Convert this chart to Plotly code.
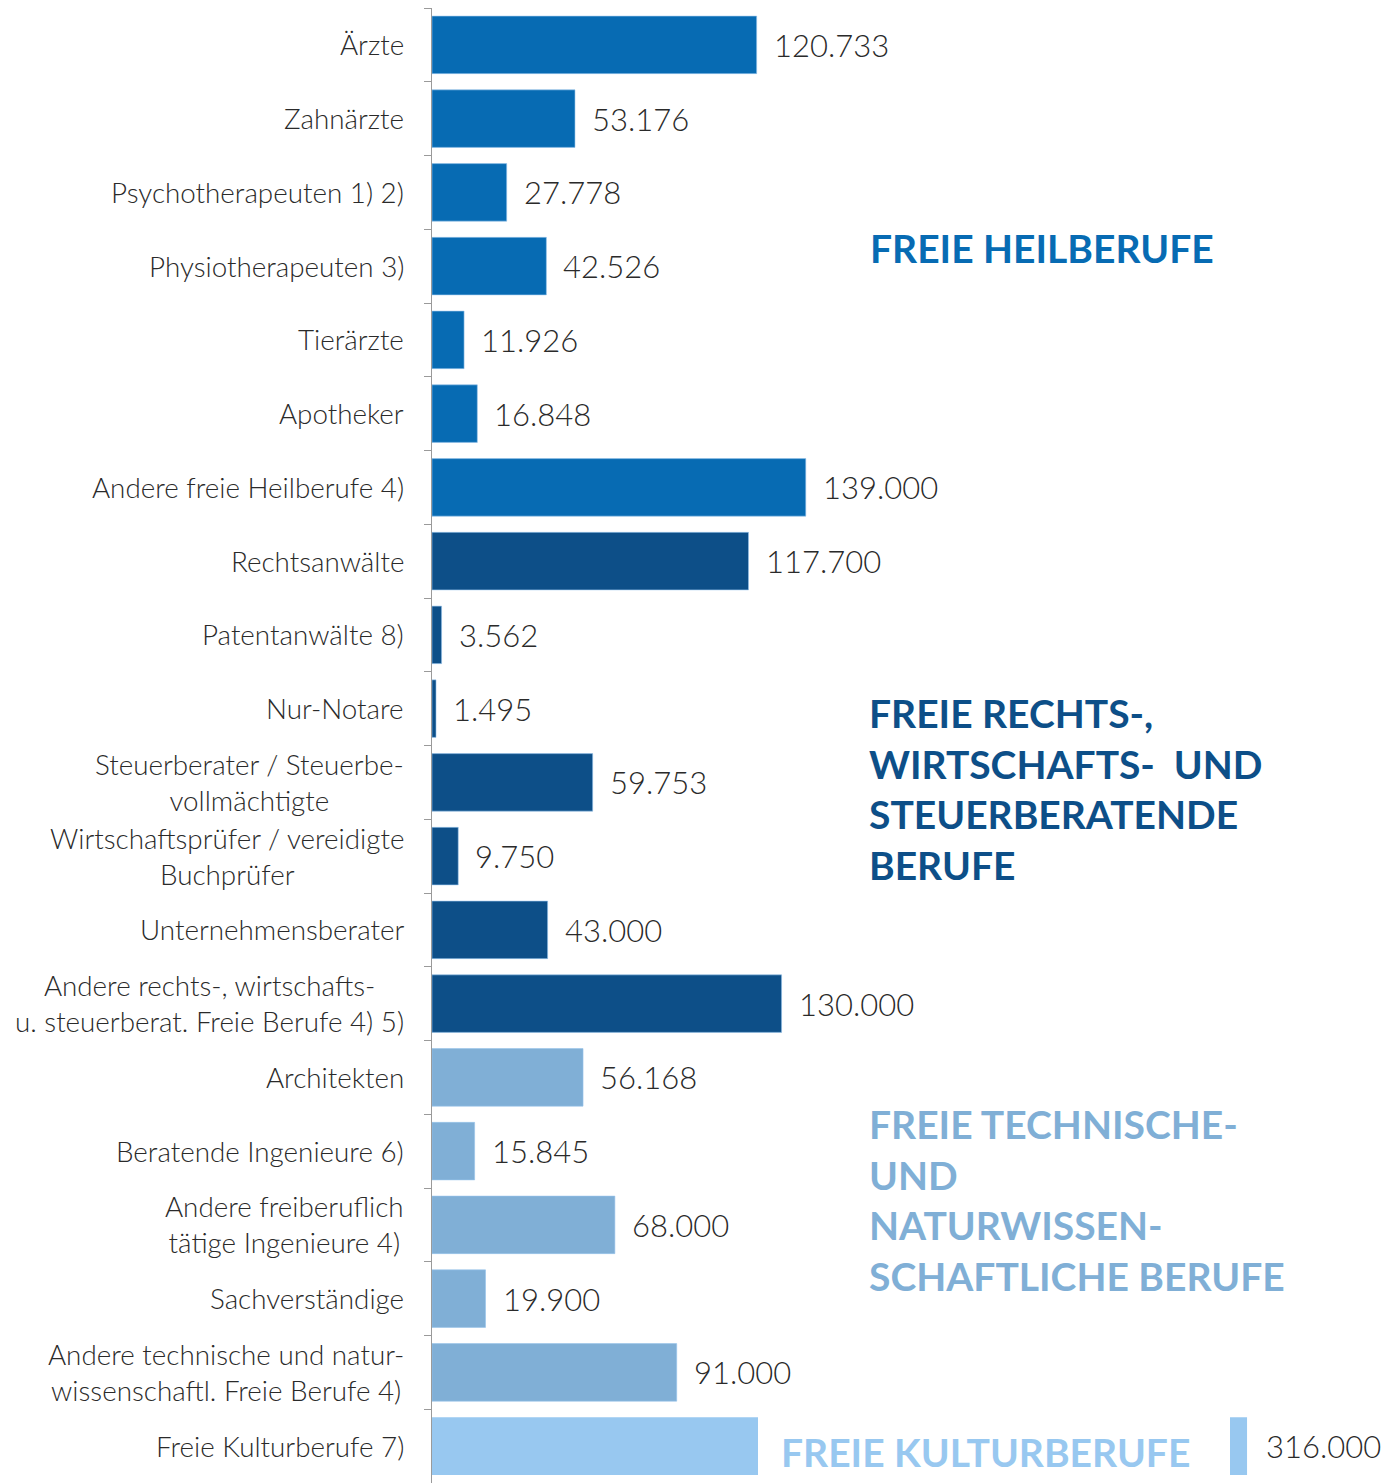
import plotly.graph_objects as go

categories = [
    "Ärzte", "Zahnärzte", "Psychotherapeuten 1) 2)", "Physiotherapeuten 3)",
    "Tierärzte", "Apotheker", "Andere freie Heilberufe 4)",
    "Rechtsanwälte", "Patentanwälte 8)", "Nur-Notare",
    "Steuerberater / Steuerbe-<br>vollmächtigte",
    "Wirtschaftsprüfer / vereidigte<br>Buchprüfer",
    "Unternehmensberater",
    "Andere rechts-, wirtschafts-<br>u. steuerberat. Freie Berufe 4) 5)",
    "Architekten", "Beratende Ingenieure 6)",
    "Andere freiberuflich<br>tätige Ingenieure 4)", "Sachverständige",
    "Andere technische und natur-<br>wissenschaftl. Freie Berufe 4)",
    "Freie Kulturberufe 7)",
]
values = [120733, 53176, 27778, 42526, 11926, 16848, 139000,
          117700, 3562, 1495, 59753, 9750, 43000, 130000,
          56168, 15845, 68000, 19900, 91000,
          316000]
groups = ["heil"] * 7 + ["recht"] * 7 + ["tech"] * 5 + ["kultur"]

group_titles = {
    "heil": "FREIE HEILBERUFE",
    "recht": "FREIE RECHTS-,<br>WIRTSCHAFTS-  UND<br>STEUERBERATENDE<br>BERUFE",
    "tech": "FREIE TECHNISCHE-<br>UND<br>NATURWISSEN-<br>SCHAFTLICHE BERUFE",
    "kultur": "FREIE KULTURBERUFE",
}

colors = {"heil": "#076bb3", "recht": "#0d4f88", "tech": "#80afd6", "kultur": "#98c8f0"}
label_font = "Lato"
txt_color = "#2a2a2a"

# page body has an 8px default margin: figure is placed at (8, 8)
W, H = 1384, 1475
ML, MT = 424, 0
PW, PH = W - ML, H - MT  # plot area: 960 x 1475 -> page x 432..1392, y 8..1483


def fmt(v):
    return f"{v:,}".replace(",", ".")


def px_to_paper_x(px):
    return (px - 8 - ML) / PW


def px_to_paper_y(py):
    return 1 - (py - 8 - MT) / PH


main_idx = [i for i, g in enumerate(groups) if g != "kultur"]
brk_idx = [i for i, g in enumerate(groups) if g == "kultur"]

fig = go.Figure()
fig.add_trace(go.Bar(
    y=[categories[i] for i in main_idx],
    x=[values[i] for i in main_idx],
    orientation="h",
    marker=dict(color=[colors[groups[i]] for i in main_idx],
                line=dict(color="rgba(150,195,235,0.6)", width=1)),
    xaxis="x", yaxis="y", showlegend=False, hoverinfo="skip",
))
fig.add_trace(go.Bar(
    y=[categories[i] for i in brk_idx],
    x=[values[i] for i in brk_idx],
    orientation="h",
    marker=dict(color=[colors[groups[i]] for i in brk_idx], line=dict(width=0)),
    xaxis="x2", yaxis="y", showlegend=False, hoverinfo="skip",
))

annotations = []
# category labels (centered multi-line, right anchored)
for c in categories:
    annotations.append(dict(
        x=0, xref="paper", y=c, yref="y", text=c, showarrow=False,
        xanchor="right", yanchor="middle", xshift=-26, align="center",
        font=dict(family=label_font, size=27.8, color=txt_color, weight=300),
    ))
# value labels
for i in main_idx:
    annotations.append(dict(
        x=values[i], xref="x", y=categories[i], yref="y", text=fmt(values[i]),
        showarrow=False, xanchor="left", yanchor="middle", xshift=15,
        font=dict(family=label_font, size=31, color=txt_color, weight=300),
    ))
for i in brk_idx:
    annotations.append(dict(
        x=values[i], xref="x2", y=categories[i], yref="y", text=fmt(values[i]),
        showarrow=False, xanchor="left", yanchor="middle", xshift=17,
        font=dict(family=label_font, size=31, color=txt_color, weight=300),
    ))

# group titles
title_font = dict(family=label_font, size=39, weight="bold")
title_specs = [
    ("heil", 868, 248),
    ("recht", 867, 789),
    ("tech", 867, 1200),
    ("kultur", 779, 1452),
]
for g, xpx, ypx in title_specs:
    annotations.append(dict(
        x=px_to_paper_x(xpx), xref="paper", y=px_to_paper_y(ypx), yref="paper",
        text=group_titles[g], showarrow=False, xanchor="left", yanchor="middle",
        align="left", font=dict(title_font, color=colors[g]),
    ))

# break rectangle for the broken bar
last = len(categories) - 1
shapes = [dict(
    type="rect", xref="paper", yref="y",
    x0=px_to_paper_x(758), x1=px_to_paper_x(1230),
    y0=last - 0.5, y1=last + 0.5,
    fillcolor="white", line=dict(width=0), layer="above",
)]

fig.update_layout(
    width=W, height=H,
    margin=dict(l=ML, r=0, t=MT, b=0),
    paper_bgcolor="white", plot_bgcolor="white",
    bargap=0.22, barmode="overlay",
    xaxis=dict(range=[0, 357000], visible=False, showgrid=False, zeroline=False),
    xaxis2=dict(range=[0, 372200], overlaying="x", visible=False,
                showgrid=False, zeroline=False),
    yaxis=dict(
        categoryorder="array", categoryarray=categories, autorange="reversed",
        showticklabels=False, showgrid=False, zeroline=False,
        showline=True, linecolor="#9a9a9a", linewidth=1,
        ticks="outside", tickson="boundaries", ticklen=7, tickcolor="#9a9a9a",
    ),
    annotations=annotations,
    shapes=shapes,
)

fig.write_html("out.html")
